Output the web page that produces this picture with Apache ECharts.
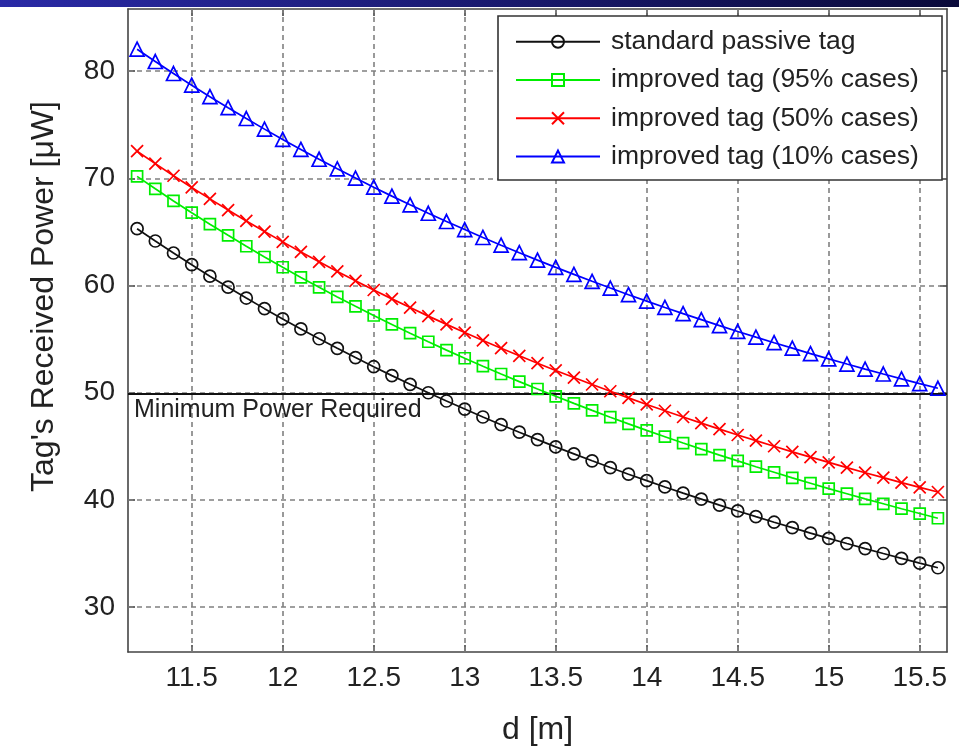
<!DOCTYPE html>
<html>
<head>
<meta charset="utf-8">
<script src="https://cdn.jsdelivr.net/npm/echarts@6/dist/echarts.min.js"></script>
<style>html,body{margin:0;padding:0;background:#fff}#c{width:959px;height:751px}</style>
</head>
<body>
<div id="c"></div>
<script>
const distances = [11.2,11.3,11.4,11.5,11.6,11.7,11.8,11.9,12.0,12.1,12.2,12.3,12.4,12.5,12.6,12.7,12.8,12.9,13.0,13.1,13.2,13.3,13.4,13.5,13.6,13.7,13.8,13.9,14.0,14.1,14.2,14.3,14.4,14.5,14.6,14.7,14.8,14.9,15.0,15.1,15.2,15.3,15.4,15.5,15.6];
const standardTag = [65.30,64.15,63.03,61.94,60.87,59.84,58.83,57.84,56.88,55.95,55.03,54.14,53.27,52.42,51.59,50.78,49.99,49.22,48.47,47.73,47.01,46.31,45.62,44.94,44.29,43.64,43.01,42.39,41.79,41.20,40.62,40.06,39.50,38.96,38.43,37.91,37.40,36.89,36.40,35.92,35.45,34.99,34.54,34.09,33.66];
const improved95 = [70.18,69.02,67.89,66.79,65.72,64.68,63.66,62.66,61.70,60.75,59.83,58.93,58.06,57.20,56.37,55.55,54.75,53.97,53.21,52.47,51.74,51.03,50.34,49.66,49.00,48.35,47.71,47.09,46.48,45.89,45.30,44.73,44.17,43.63,43.09,42.57,42.05,41.55,41.05,40.57,40.09,39.63,39.17,38.72,38.28];
const improved50 = [72.53,71.37,70.24,69.15,68.08,67.04,66.02,65.03,64.07,63.13,62.21,61.31,60.44,59.58,58.75,57.94,57.14,56.37,55.61,54.87,54.15,53.44,52.75,52.07,51.41,50.76,50.13,49.51,48.90,48.31,47.73,47.16,46.60,46.05,45.52,45.00,44.48,43.98,43.49,43.00,42.53,42.07,41.61,41.16,40.73];
const improved10 = [82.05,80.90,79.78,78.69,77.62,76.59,75.58,74.59,73.63,72.70,71.78,70.89,70.02,69.17,68.34,67.53,66.74,65.97,65.22,64.48,63.76,63.06,62.37,61.69,61.04,60.39,59.76,59.14,58.54,57.95,57.37,56.81,56.25,55.71,55.18,54.66,54.15,53.64,53.15,52.67,52.20,51.74,51.29,50.84,50.41];
const xTicks = [11.5,12,12.5,13,13.5,14,14.5,15,15.5];
const yTicks = [30,40,50,60,70,80];
const minPower = 49.9;
const minPowerLabel = 'Minimum Power Required';
const seriesNames = ['standard passive tag','improved tag (95% cases)','improved tag (50% cases)','improved tag (10% cases)'];

const FONT = '"Liberation Sans", Arial, Helvetica, sans-serif';
const pairs = vals => distances.map((d, i) => [d, vals[i]]);
const axisLineStyle = {color: '#444', width: 1.6};
const gridDash = {color: '#808080', width: 1.6, type: [5, 4]};

function dataSeries(name, vals, color, symbol, size) {
  return {
    name: name, type: 'line', data: pairs(vals), z: 5,
    symbol: symbol, symbolSize: size, showAllSymbol: true,
    lineStyle: {color: color, width: 1.7},
    itemStyle: {color: 'rgba(0,0,0,0)', borderColor: color, borderWidth: 1.7},
    emphasis: {disabled: true}, animation: false
  };
}

const chart = echarts.init(document.getElementById('c'), null, {renderer: 'canvas'});
chart.setOption({
  animation: false,
  backgroundColor: '#ffffff',
  textStyle: {fontFamily: FONT},
  grid: {left: 128, right: 12, top: 9, bottom: 98},
  xAxis: [{
    type: 'value', min: 11.15, max: 15.65,
    axisLine: {show: true, lineStyle: axisLineStyle},
    axisTick: {show: true, inside: true, length: 7, customValues: xTicks, lineStyle: axisLineStyle},
    axisLabel: {customValues: xTicks, fontSize: 28, color: '#222', margin: 12, fontFamily: FONT},
    splitLine: {show: false},
    name: 'd [m]', nameLocation: 'middle', nameGap: 62,
    nameTextStyle: {fontSize: 32, color: '#222', fontFamily: FONT}
  }, {
    type: 'value', min: 11.15, max: 15.65, position: 'top',
    axisLine: {show: true, lineStyle: axisLineStyle},
    axisTick: {show: true, inside: true, length: 7, customValues: xTicks, lineStyle: axisLineStyle},
    axisLabel: {show: false}, splitLine: {show: false}
  }],
  yAxis: [{
    type: 'value', min: 25.8, max: 85.8,
    axisLine: {show: true, lineStyle: axisLineStyle},
    axisTick: {show: true, inside: true, length: 7, customValues: yTicks, lineStyle: axisLineStyle},
    axisLabel: {customValues: yTicks, fontSize: 28, color: '#222', margin: 13, fontFamily: FONT},
    splitLine: {show: false},
    name: "Tag's Received Power [μW]", nameLocation: 'middle', nameGap: 68, nameRotate: 90,
    nameTextStyle: {fontSize: 32, color: '#222', fontFamily: FONT, padding: [0, 0, 0, 68]}
  }, {
    type: 'value', min: 25.8, max: 85.8, position: 'right',
    axisLine: {show: true, lineStyle: axisLineStyle},
    axisTick: {show: true, inside: true, length: 7, customValues: yTicks, lineStyle: axisLineStyle},
    axisLabel: {show: false}, splitLine: {show: false}
  }],
  legend: {
    data: seriesNames, orient: 'vertical', left: 515, top: 28.2, padding: 0, z: 10,
    itemWidth: 84, itemHeight: 15, itemGap: 11.3, selectedMode: false,
    textStyle: {fontSize: 26.5, color: '#222', fontFamily: FONT, lineHeight: 27, padding: [0, 0, 0, 6]}
  },
  graphic: [
    {type: 'rect', z: 20, silent: true, shape: {x: 0, y: 0, width: 959, height: 7},
     style: {fill: new echarts.graphic.LinearGradient(0, 0, 1, 0, [{offset: 0, color: '#2a2aa6'}, {offset: 1, color: '#0a0a3a'}])}},
    {type: 'rect', z: 8, silent: true, shape: {x: 498, y: 16, width: 444, height: 164},
     style: {fill: '#ffffff', stroke: '#333333', lineWidth: 1.6}}
  ],
  series: [
    {
      name: 'grid', type: 'line', data: [], z: 1, silent: true,
      markLine: {
        silent: true, symbol: 'none', animation: false, label: {show: false},
        lineStyle: gridDash, emphasis: {disabled: true},
        data: xTicks.map(v => ({xAxis: v})).concat(yTicks.map(v => ({yAxis: v})))
      }
    },
    {
      name: 'threshold', type: 'line', data: [], z: 3, silent: true,
      markLine: {
        silent: true, symbol: 'none', animation: false,
        lineStyle: {color: '#111', width: 2, type: 'solid'}, emphasis: {disabled: true},
        label: {show: true, position: 'insideStartBottom', formatter: minPowerLabel, fontSize: 25, color: '#222', fontFamily: FONT, distance: [6, 4]},
        data: [{yAxis: minPower}]
      }
    },
    dataSeries(seriesNames[0], standardTag, '#111111', 'circle', 12),
    dataSeries(seriesNames[1], improved95, '#00ee00', 'rect', 11),
    dataSeries(seriesNames[2], improved50, '#ff0000', 'path://M0,0L10,10M10,0L0,10', 12),
    dataSeries(seriesNames[3], improved10, '#0000ff', 'triangle', 14)
  ]
});
</script>
</body>
</html>
